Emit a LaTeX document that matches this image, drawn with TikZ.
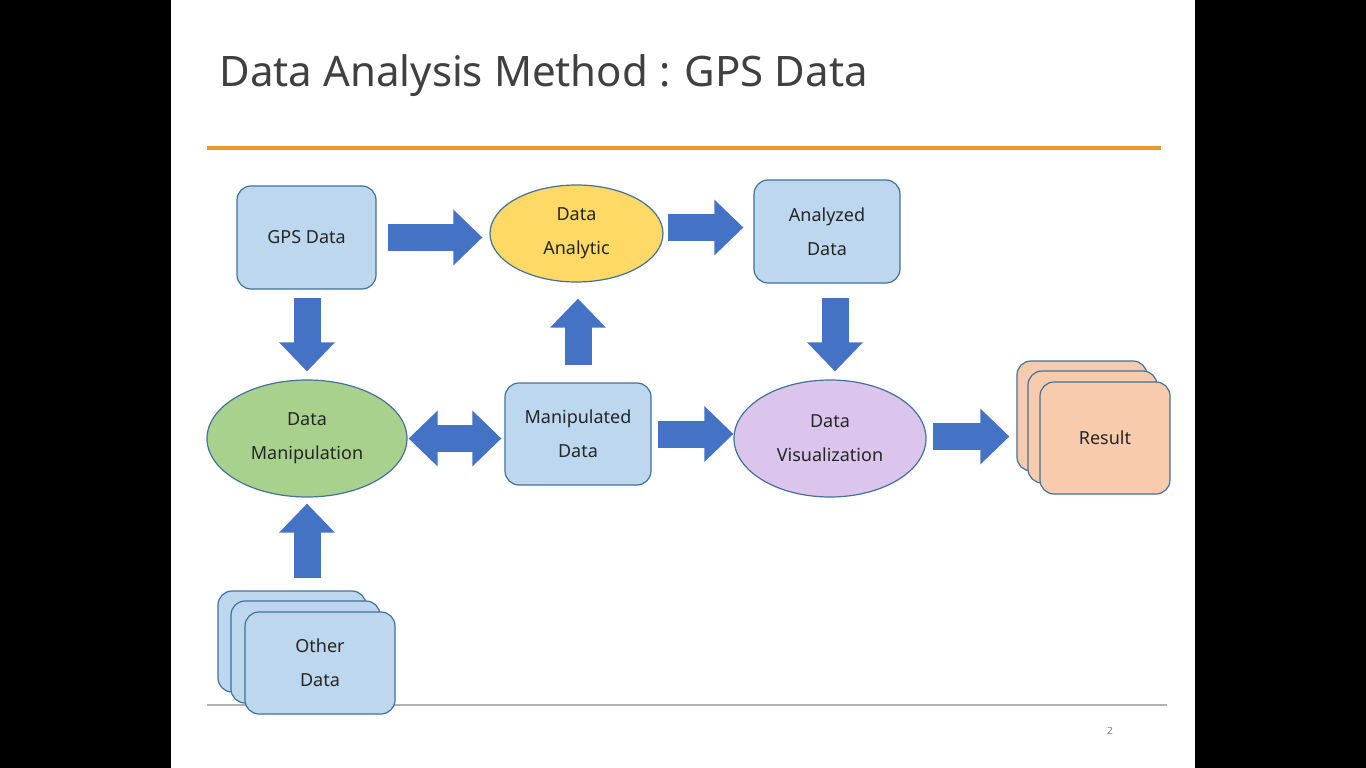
\documentclass[tikz,border=0pt]{standalone}
\usepackage{fontspec}
\setmainfont{Noto Sans}
\usetikzlibrary{shapes.geometric,arrows.meta,calc}
\definecolor{boxblue}{HTML}{BDD7EE}
\definecolor{edgeblue}{HTML}{41719C}
\definecolor{arrowblue}{HTML}{4472C4}
\definecolor{analyticyellow}{HTML}{FFD966}
\definecolor{manipgreen}{HTML}{A9D18E}
\definecolor{vispurple}{HTML}{DCC5EC}
\definecolor{resultorange}{HTML}{F8CBAD}
\definecolor{titleorange}{HTML}{F0962E}
\definecolor{titlegray}{HTML}{404040}
\definecolor{textgray}{HTML}{262626}
\begin{document}
\begin{tikzpicture}[x=1pt,y=-1pt]
        \tikzstyle{databox}=[draw=edgeblue,line width=1.2pt,fill=boxblue,rounded corners=14pt,align=center,font=\fontsize{18}{34}\selectfont,text=textgray]
        \tikzstyle{resultbox}=[databox,fill=resultorange]
        \tikzstyle{dataoval}=[ellipse,draw=edgeblue,line width=1.2pt,align=center,font=\fontsize{18}{34}\selectfont,text=textgray]
        \tikzstyle{flow}=[draw=arrowblue,line width=27pt,-{Triangle[length=29pt,width=54pt]}]
        \tikzstyle{flowboth}=[draw=arrowblue,line width=27pt,{Triangle[length=29pt,width=54pt]}-{Triangle[length=29pt,width=54pt]}]

        % slide and black bars
        \fill[black] (0,0) rectangle (1366,768);
        \fill[white] (171,0) rectangle (1195,768);
        \useasboundingbox (0,0) rectangle (1366,768);

        \node[anchor=base west,font=\fontsize{42}{50}\selectfont,text=titlegray] (title) at (216,86) {Data Analysis Method : GPS Data};
        \draw[titleorange,line width=4pt] (207,148) -- (1161,148);
        \draw[gray!60,line width=1.2pt] (207,705) -- (1167,705);
        \node[font=\fontsize{10}{12}\selectfont,text=gray] (pagenum) at (1110,731) {2};

       \begin{scope}
         \node [databox,minimum width=139pt,minimum height=103pt] (gps) at (306.5,237.5) {GPS Data};
         \node [dataoval,fill=analyticyellow,minimum width=173pt,minimum height=97pt] (analytic) at (576.5,233.5) {Data\\Analytic};
         \node [databox,minimum width=146pt,minimum height=103pt] (analyzed) at (827,231.5) {Analyzed\\Data};
         \node [dataoval,fill=manipgreen,minimum width=200pt,minimum height=117pt] (manip) at (307,438.5) {Data\\Manipulation};
         \node [databox,minimum width=146pt,minimum height=102pt] (manipd) at (578,434) {Manipulated\\Data};
         \node [dataoval,fill=vispurple,minimum width=192pt,minimum height=117pt] (vis) at (830,438.5) {Data\\Visualization};

         % stacked results
         \node [resultbox,minimum width=130pt,minimum height=110pt] (res1) at (1082,416) {};
         \node [resultbox,minimum width=129pt,minimum height=112pt] (res2) at (1092.5,427) {};
         \node [resultbox,minimum width=130pt,minimum height=112pt] (res) at (1105,438) {Result};

         % stacked other data
         \node [databox,minimum width=148pt,minimum height=101pt] (oth1) at (292,641.5) {};
         \node [databox,minimum width=149pt,minimum height=102pt] (oth2) at (305.5,652) {};
         \node [databox,minimum width=150pt,minimum height=102pt] (oth) at (320,663) {Other\\Data};

         \path[flow] ($(gps.east)+(11,0)$) -- ($(gps.east -| analytic.west)+(-7,0)$);
         \path[flow] ($(analytic.east)+(4,-6)$) -- ($(analytic.east -| analyzed.west)+(-10,-6)$);
         \path[flow] ($(gps.south)+(0.5,8)$) -- ($(gps.south |- manip.north)+(0.5,-8)$);
         \path[flow] ($(analyzed.south)+(8,14)$) -- ($(analyzed.south |- vis.north)+(8,-8)$);
         \path[flow] ($(manipd.north)+(0,-17)$) -- ($(manipd.north |- analytic.south)+(0,16)$);
         \path[flowboth] ($(manip.east)+(1,0)$) -- ($(manip.east -| manipd.west)+(-3,0)$);
         \path[flow] ($(manipd.east)+(6,0)$) -- (manipd.east -| vis.west);
         \path[flow] ($(vis.east)+(6,-2)$) -- ($(vis.east -| res1.west)+(-7,-2)$);
         \path[flow] ($(manip.south |- oth1.north)+(0,-12)$) -- ($(manip.south)+(0,6)$);
        \end{scope}
      \end{tikzpicture}
\end{document}
